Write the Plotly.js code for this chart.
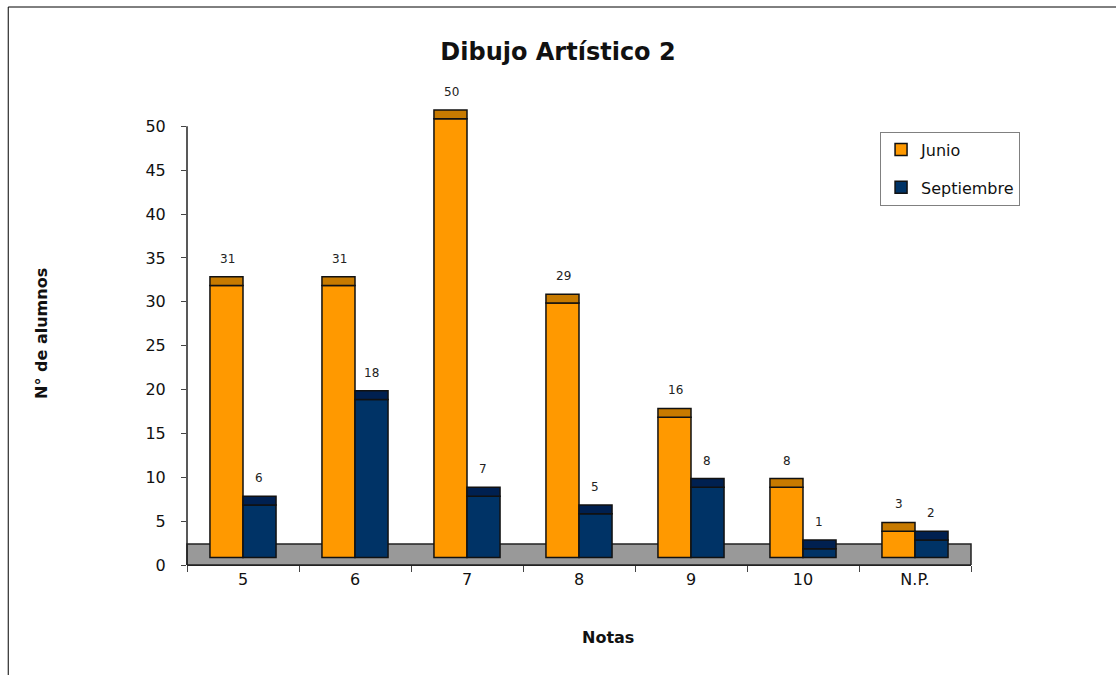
<!DOCTYPE html>
<html>
<head>
<meta charset="utf-8">
<script src="https://cdn.plot.ly/plotly-3.0.1.min.js"></script>
<style>html,body{margin:0;padding:0;background:#fff;}#chart{width:1116px;height:675px;}</style>
</head>
<body>
<div id="chart"></div>
<script>
const categories = ['5', '6', '7', '8', '9', '10', 'N.P.'];
const junio = [31, 31, 50, 29, 16, 8, 3];
const septiembre = [6, 18, 7, 5, 8, 1, 2];

const FLOOR_LIFT = 0.85;   // 3D floor offset (visual)
const CAP = 1.0;           // 3D top face height (visual)
const YMAX_TICK = 50;
const FONT = 'DejaVu Sans, Verdana, sans-serif';

function body(name, vals, color, group) {
  return {
    type: 'bar', name: name, x: categories, y: vals,
    base: vals.map(() => FLOOR_LIFT),
    offsetgroup: group, legendgroup: group,
    marker: {color: color, line: {color: '#111', width: 1.5}},
    cliponaxis: false, hoverinfo: 'skip'
  };
}
function cap(vals, color, group) {
  return {
    type: 'bar', x: categories, y: vals.map(() => CAP),
    base: vals.map(v => v + FLOOR_LIFT),
    offsetgroup: group, legendgroup: group, showlegend: false,
    marker: {color: color, line: {color: '#111', width: 1.5}},
    cliponaxis: false, hoverinfo: 'skip'
  };
}

const traces = [
  body('Junio', junio, '#FF9900', 'j'),
  cap(junio, '#C77A00', 'j'),
  body('Septiembre', septiembre, '#003366', 's'),
  cap(septiembre, '#002050', 's')
];

const labelAnns = [];
categories.forEach((c, i) => {
  labelAnns.push({x: i, y: junio[i] + FLOOR_LIFT + CAP, xref: 'x', yref: 'y',
    text: String(junio[i]), showarrow: false, xshift: -16, yshift: 18,
    font: {family: FONT, size: 12, color: '#222'}});
  labelAnns.push({x: i, y: septiembre[i] + FLOOR_LIFT + CAP, xref: 'x', yref: 'y',
    text: String(septiembre[i]), showarrow: false, xshift: 16, yshift: 18,
    font: {family: FONT, size: 12, color: '#222'}});
});

const layout = {
  width: 1116, height: 675,
  margin: {l: 187, r: 145, t: 100, b: 110},
  paper_bgcolor: '#fff', plot_bgcolor: 'rgba(0,0,0,0)',
  font: {family: FONT, size: 16, color: '#111'},
  title: {text: '<b>Dibujo Artístico 2</b>', x: 0.5, xref: 'container', y: 0.923, yref: 'container',
    yanchor: 'middle', xanchor: 'center', font: {family: FONT, size: 24, color: '#111'}},
  barmode: 'group', bargap: 0.41, bargroupgap: 0,
  showlegend: true,
  legend: {x: 0.884, y: 0.932, xanchor: 'left', yanchor: 'top',
    bordercolor: '#808080', borderwidth: 1, bgcolor: '#fff',
    font: {family: FONT, size: 16, color: '#111'}, tracegroupgap: 14, traceorder: 'grouped'},
  xaxis: {type: 'category', range: [-0.5, 6.5], showline: true, linecolor: '#222', linewidth: 1,
    ticks: 'outside', tickson: 'boundaries', ticklen: 6, tickcolor: '#444',
    showgrid: false, zeroline: false, tickfont: {family: FONT, size: 16, color: '#111'}},
  yaxis: {range: [0, 53], dtick: 5, showline: false,
    ticks: 'outside', ticklen: 5, tickcolor: '#444', ticklabelstandoff: 12,
    showgrid: false, zeroline: false, tickfont: {family: FONT, size: 16, color: '#111'}},
  shapes: [
    {type: 'rect', xref: 'paper', yref: 'y', x0: 0, x1: 1, y0: 0, y1: 2.4,
      fillcolor: '#999999', line: {color: '#222', width: 1.5}, layer: 'below'},
    {type: 'line', xref: 'paper', yref: 'y', x0: 0, x1: 0, y0: 0, y1: YMAX_TICK,
      line: {color: '#222', width: 1.5}, layer: 'below'},
    {type: 'rect', xref: 'paper', yref: 'paper', x0: -0.228, x1: 1.3, y0: -0.4, y1: 1.2,
      fillcolor: 'rgba(0,0,0,0)', line: {color: '#000', width: 1}, layer: 'below'}
  ],
  annotations: labelAnns.concat([
    {text: '<b>Notas</b>', xref: 'paper', yref: 'paper', x: 0.537, y: -0.155,
      showarrow: false, xanchor: 'center', yanchor: 'middle', font: {family: FONT, size: 16, color: '#111'}},
    {text: '<b>N° de alumnos</b>', xref: 'paper', yref: 'paper', x: -0.185, y: 0.499, textangle: -90,
      showarrow: false, xanchor: 'center', yanchor: 'middle', font: {family: FONT, size: 16, color: '#111'}}
  ])
};

Plotly.newPlot('chart', traces, layout, {displayModeBar: false, staticPlot: true});
</script>
</body>
</html>
